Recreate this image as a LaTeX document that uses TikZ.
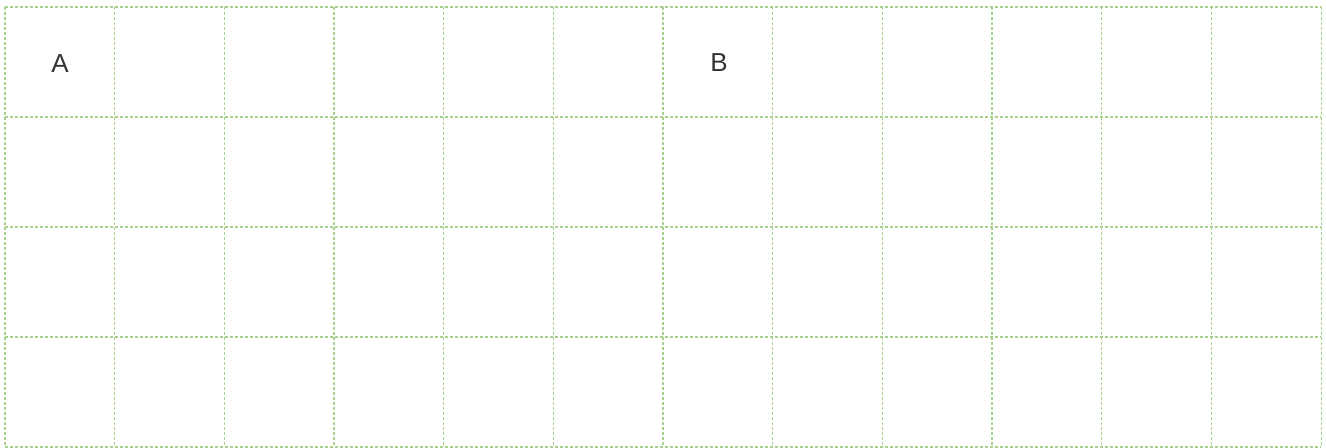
\documentclass[tikz,border=0pt]{standalone}
\usepackage{fontspec}
\setmainfont{Liberation Sans}
\definecolor{gridgreen}{HTML}{A9D18E}
\definecolor{labelgray}{HTML}{333333}
\tikzset{
  gridline/.style={draw=gridgreen, line width=1.1bp, dash pattern=on 3bp off 2bp},
  celllabel/.style={text=labelgray, font=\fontsize{26bp}{30bp}\selectfont, inner sep=0pt, anchor=center}
}
\begin{document}
\begin{tikzpicture}[x=1bp,y=-1bp]
\useasboundingbox (0,0) rectangle (1326,448);
\fill[white] (0,0) rectangle (1326,448);
% vertical lines
\foreach \i in {0,...,12} {
  \draw[gridline] ({5+\i*109.67},7) -- ({5+\i*109.67},447);
}
% horizontal lines
\foreach \j in {0,...,4} {
  \draw[gridline] (5,{7+\j*110}) -- (1321,{7+\j*110});
}
\node[celllabel] (A) at (60,64) {A};
\node[celllabel] (B) at (719,63) {B};
\end{tikzpicture}
\end{document}
